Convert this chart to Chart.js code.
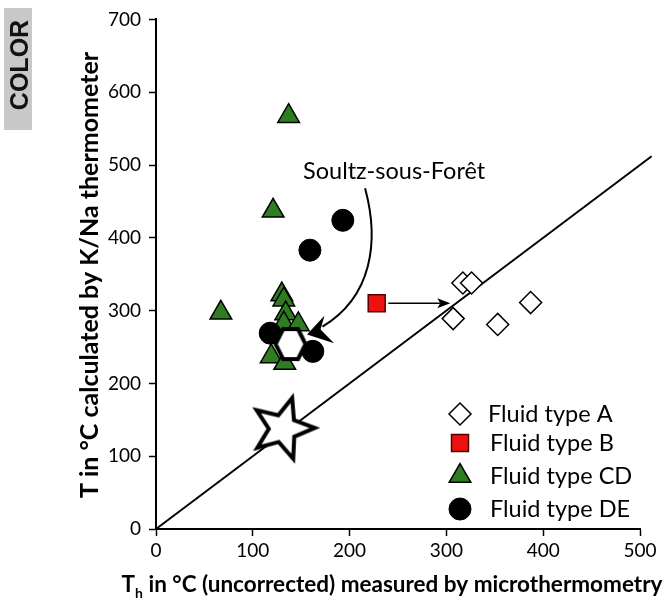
<!DOCTYPE html>
<html>
<head>
<meta charset="utf-8">
<script src="https://cdn.jsdelivr.net/npm/chart.js@4.4.1/dist/chart.umd.min.js"></script>
<style>
  html, body { margin: 0; padding: 0; background: #fff; }
</style>
</head>
<body>
<canvas id="graph" width="665" height="600"></canvas>
<script>
// Th (microthermometry, uncorrected) against T from the K/Na thermometer, both in °C
var typeA_th = [317, 326, 307, 353, 387];
var typeA_t = [338, 338, 289, 281, 311];
var typeB_th = [228];
var typeB_t = [310];
var typeCD_th = [137, 121, 67, 130, 132, 134, 132, 147, 119, 133];
var typeCD_t = [567, 437, 297, 322, 315, 296, 282, 281, 237, 228];
var typeDE_th = [193, 159, 118, 162];
var typeDE_t = [424, 383, 269, 244];
// Soultz-sous-Forêt (hexagon) and the reference star
var soultz_th = [139];
var soultz_t = [254];
var star_th = [131];
var star_t = [138];
// 1:1 line
var oneToOne = [0, 512];
var xTicks = [0, 100, 200, 300, 400, 500];
var yTicks = [0, 100, 200, 300, 400, 500, 600, 700];
var legendLabels = ["Fluid type A", "Fluid type B", "Fluid type CD", "Fluid type DE"];

var FONT = "Lato";

function pts(xs, ys) {
  return xs.map((xi, i) => ({ x: xi, y: ys[i] }));
}

// hexagon marker, flat top and bottom
function makeHexagon(rx, hy, lw) {
  var w = Math.ceil(2 * rx + lw + 4), h = Math.ceil(2 * hy + lw + 4);
  var c = document.createElement("canvas");
  c.width = w; c.height = h;
  var g = c.getContext("2d");
  var cx = w / 2, cy = h / 2;
  g.beginPath();
  g.moveTo(cx - rx, cy);
  g.lineTo(cx - rx / 2, cy - hy);
  g.lineTo(cx + rx / 2, cy - hy);
  g.lineTo(cx + rx, cy);
  g.lineTo(cx + rx / 2, cy + hy);
  g.lineTo(cx - rx / 2, cy + hy);
  g.closePath();
  g.fillStyle = "#fff"; g.fill();
  g.lineWidth = lw; g.lineJoin = "miter"; g.strokeStyle = "#000"; g.stroke();
  return c;
}

// five pointed star marker, slightly tilted
function makeStar(outer, inner, tilt, lw) {
  var s = Math.ceil(2 * outer + lw * 3);
  var c = document.createElement("canvas");
  c.width = s; c.height = s;
  var g = c.getContext("2d");
  g.beginPath();
  for (var i = 0; i < 10; i++) {
    var a = (-90 + tilt + i * 36) * Math.PI / 180;
    var r = i % 2 ? inner : outer;
    var px = s / 2 + r * Math.cos(a), py = s / 2 + r * Math.sin(a);
    if (i == 0) g.moveTo(px, py); else g.lineTo(px, py);
  }
  g.closePath();
  g.fillStyle = "#fff"; g.fill();
  g.lineWidth = lw; g.lineJoin = "miter"; g.strokeStyle = "#000"; g.stroke();
  return c;
}

// text, arrows, legend and the COLOR tag
const decorations = {
  id: "decorations",
  afterDatasetsDraw(chart) {
    const ctx = chart.ctx;
    const sx = chart.scales.x, sy = chart.scales.y;
    const X = v => sx.getPixelForValue(v), Y = v => sy.getPixelForValue(v);
    ctx.save();

    // arrow from the type B square
    ctx.strokeStyle = "#000"; ctx.fillStyle = "#000"; ctx.lineWidth = 1.5;
    ctx.beginPath();
    ctx.moveTo(X(240), Y(310));
    ctx.lineTo(X(304) - 10, Y(310));
    ctx.stroke();
    ctx.beginPath();
    ctx.moveTo(X(304), Y(310));
    ctx.lineTo(X(304) - 13, Y(310) - 5);
    ctx.lineTo(X(304) - 10, Y(310));
    ctx.lineTo(X(304) - 13, Y(310) + 5);
    ctx.closePath();
    ctx.fill();

    // curved arrow to Soultz-sous-Forêt
    ctx.lineWidth = 2;
    ctx.beginPath();
    ctx.moveTo(X(216), Y(468));
    ctx.bezierCurveTo(X(231), Y(394), X(223), Y(319), X(172), Y(278));
    ctx.stroke();
    ctx.beginPath();
    ctx.moveTo(X(156), Y(267));
    ctx.lineTo(X(174), Y(293));
    ctx.lineTo(X(170), Y(274));
    ctx.lineTo(X(184), Y(255));
    ctx.closePath();
    ctx.fill();

    ctx.font = "23.5px " + FONT;
    ctx.textAlign = "center"; ctx.textBaseline = "middle";
    ctx.fillText("Soultz-sous-Forêt", X(246), Y(491));

    // legend
    var rows = [414, 443, 476, 509];
    legendLabels.forEach((label, i) => {
      var d = chart.data.datasets.find(ds => ds.label == label);
      ctx.fillStyle = d.backgroundColor;
      ctx.strokeStyle = d.borderColor;
      ctx.lineWidth = d.borderWidth;
      Chart.helpers.drawPoint(ctx, { pointStyle: d.pointStyle, radius: d.pointRadius, rotation: 0, borderWidth: d.borderWidth }, 460, rows[i]);
      ctx.fillStyle = "#000";
      ctx.font = "23.5px " + FONT;
      ctx.textAlign = "left"; ctx.textBaseline = "middle";
      ctx.fillText(label, i == 0 ? 488 : 490, rows[i]);
    });

    // axis titles
    ctx.fillStyle = "#000";
    ctx.font = "bold 25px " + FONT;
    ctx.save();
    ctx.translate(90, 275);
    ctx.rotate(-Math.PI / 2);
    ctx.textAlign = "center"; ctx.textBaseline = "middle";
    ctx.fillText("T in °C calculated by K/Na thermometer", 0, 0);
    ctx.restore();

    var rest = " in °C (uncorrected) measured by microthermometry";
    var big = "bold 22.5px " + FONT, small = "bold 14px " + FONT;
    ctx.textAlign = "left"; ctx.textBaseline = "alphabetic";
    ctx.font = big;
    var wT = ctx.measureText("T").width, wR = ctx.measureText(rest).width;
    ctx.font = small;
    var wH = ctx.measureText("h").width;
    var x0 = 392 - (wT + wH + wR) / 2;
    ctx.font = big;
    ctx.fillText("T", x0, 592);
    ctx.font = small;
    ctx.fillText("h", x0 + wT, 598);
    ctx.font = big;
    ctx.fillText(rest, x0 + wT + wH, 592);

    // COLOR tag
    ctx.fillStyle = "#c8c8c8";
    ctx.fillRect(4, 8, 28, 122);
    ctx.fillStyle = "#111";
    ctx.font = "bold 25px 'Liberation Sans'";
    ctx.save();
    ctx.translate(21, 65);
    ctx.rotate(-Math.PI / 2);
    ctx.textAlign = "center"; ctx.textBaseline = "middle";
    ctx.fillText("COLOR", 0, 0);
    ctx.restore();

    ctx.restore();
  }
};

const graph = new Chart("graph", {
  type: "scatter",
  data: {
    datasets: [
      {
        label: "", data: pts(star_th, star_t), pointStyle: makeStar(32, 14, 17, 4),
        pointRadius: 32, order: 0
      },
      {
        label: "", data: pts(soultz_th, soultz_t), pointStyle: makeHexagon(15, 15, 4),
        pointRadius: 18, order: 0
      },
      {
        label: legendLabels[3], data: pts(typeDE_th, typeDE_t), pointStyle: "circle",
        pointRadius: 11, backgroundColor: "#000", borderColor: "#000", borderWidth: 1, order: 1
      },
      {
        label: legendLabels[2], data: pts(typeCD_th, typeCD_t), pointStyle: "triangle",
        pointRadius: 12.5, backgroundColor: "#2e7d21", borderColor: "#000", borderWidth: 1.5, order: 2
      },
      {
        label: legendLabels[1], data: pts(typeB_th, typeB_t), pointStyle: "rect",
        pointRadius: 12, backgroundColor: "#ee1111", borderColor: "#500", borderWidth: 1.5, order: 3
      },
      {
        label: legendLabels[0], data: pts(typeA_th, typeA_t), pointStyle: "rectRot",
        pointRadius: 11, backgroundColor: "#fff", borderColor: "#000", borderWidth: 1.5, order: 4
      },
      {
        type: "line", label: "", data: pts(oneToOne, oneToOne), borderColor: "#000",
        borderWidth: 2, pointRadius: 0, clip: false, order: 5
      }
    ]
  },
  options: {
    responsive: false,
    animation: false,
    layout: { autoPadding: false, padding: { left: 0, right: 25, top: 16, bottom: 0 } },
    plugins: { legend: { display: false }, tooltip: { enabled: false } },
    scales: {
      x: {
        type: "linear", min: 0, max: 500,
        afterBuildTicks: s => { s.ticks = xTicks.map(v => ({ value: v })); },
        afterFit: s => { s.height = 71; },
        grid: { drawOnChartArea: false, drawTicks: true, tickLength: 7, tickColor: "#000", tickWidth: 1.5 },
        border: { display: true, color: "#000", width: 2 },
        ticks: { color: "#000", font: { family: FONT, size: 19 }, padding: 3, maxRotation: 0 }
      },
      y: {
        type: "linear", min: 0, max: 700,
        afterBuildTicks: s => { s.ticks = yTicks.map(v => ({ value: v })); },
        afterFit: s => { s.width = 156; },
        grid: { drawOnChartArea: false, drawTicks: true, tickLength: 7, tickColor: "#000", tickWidth: 1.5 },
        border: { display: true, color: "#000", width: 2 },
        ticks: { color: "#000", font: { family: FONT, size: 19 }, padding: 8 }
      }
    }
  },
  plugins: [decorations]
});
</script>
</body>
</html>
